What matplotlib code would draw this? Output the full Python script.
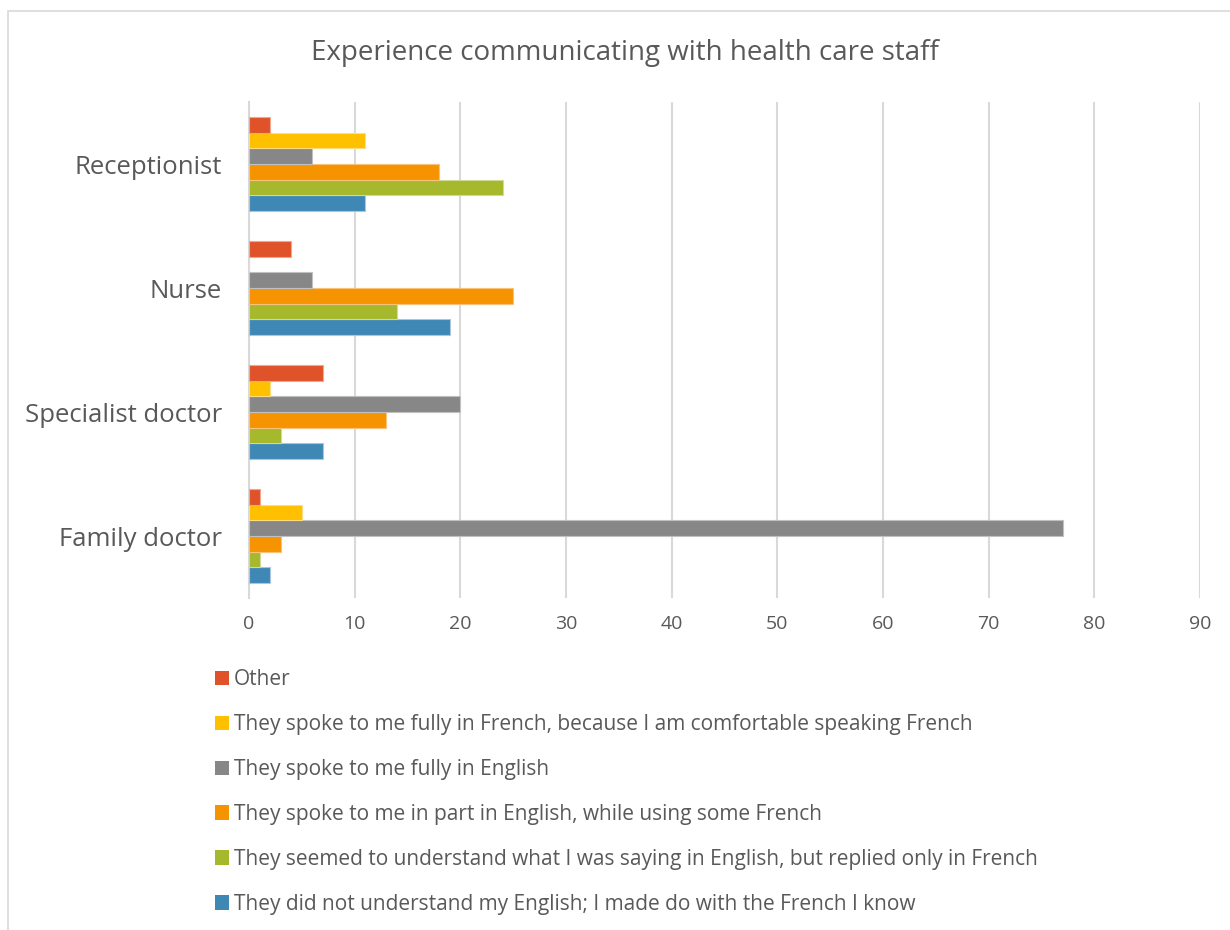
import matplotlib
matplotlib.use("Agg")
import matplotlib.pyplot as plt
from matplotlib.patches import Rectangle, Patch
import numpy as np

plt.rcParams['font.family'] = ['Open Sans', 'DejaVu Sans']

categories = ["Family doctor", "Specialist doctor", "Nurse", "Receptionist"]
series_names = [
    "They did not understand my English; I made do with the French I know",
    "They seemed to understand what I was saying in English, but replied only in French",
    "They spoke to me in part in English, while using some French",
    "They spoke to me fully in English",
    "They spoke to me fully in French, because I am comfortable speaking French",
    "Other",
]
did_not_understand = [2, 7, 19, 11]
understood_replied_french = [1, 3, 14, 24]
part_english = [3, 13, 25, 18]
fully_english = [77, 20, 6, 6]
fully_french = [5, 2, 0, 11]
other = [1, 7, 4, 2]
series_values = [did_not_understand, understood_replied_french, part_english,
                 fully_english, fully_french, other]
colors = ["#3F88B5", "#A6B82B", "#F69300", "#878787", "#FFC000", "#E0532A"]
edge_colors = ["#A9C6DC", "#D2DB95", "#F9C17A", "#C0C0C0", "#FFDD80", "#EFA78F"]

fig = plt.figure(figsize=(12.3, 9.3), dpi=100)
ax = fig.add_axes([249/1230, 1-598/930, (1200-249)/1230, (598-102)/930])

n = len(series_values)
group_w = 0.76
bar_h = group_w / n
y = np.arange(len(categories))
for i, (vals, c, ec) in enumerate(zip(series_values, colors, edge_colors)):
    offs = -group_w/2 + bar_h*(i+0.5)
    ax.barh(y + offs, vals, height=bar_h, color=c, edgecolor=ec, linewidth=0.8,
            label=series_names[i], zorder=3)

ax.set_xlim(0, 90)
ax.set_ylim(-0.5, 3.5)
ax.set_xticks(np.arange(0, 91, 10))
ax.set_yticks(y)
ax.set_yticklabels(categories, fontsize=18.5, color="#595959")
ax.tick_params(axis='x', labelsize=14, colors="#595959", length=0, pad=12)
ax.tick_params(axis='y', length=0, pad=19.5)
ax.grid(axis='x', color="#D9D9D9", linewidth=1.5, zorder=0)
for s in ['top', 'right', 'bottom']:
    ax.spines[s].set_visible(False)
ax.spines['left'].set_color("#D9D9D9")
ax.spines['left'].set_linewidth(1.5)

fig.text(625/1230, 1-53/930, "Experience communicating with health care staff",
         ha='center', va='center', fontsize=20, color="#595959")

handles = [Patch(facecolor=colors[i], edgecolor='none') for i in range(n)][::-1]
labels = series_names[::-1]
leg = fig.legend(handles, labels, loc='upper left',
                 bbox_to_anchor=(215/1230, 1-669/930), frameon=False,
                 fontsize=15, labelcolor="#595959", handlelength=0.67,
                 handleheight=0.67, handletextpad=0.25, labelspacing=1.15,
                 borderpad=0, borderaxespad=0)

fig.patches.append(Rectangle((8/1230, -0.1), 1.2, 1.1-11/930, transform=fig.transFigure,
                             fill=False, edgecolor="#D9D9D9", linewidth=1.2))

fig.savefig("out.png", dpi=100)
